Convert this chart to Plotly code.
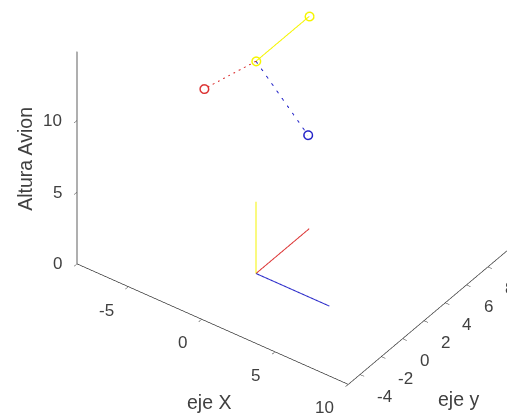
import numpy as np
import plotly.graph_objects as go

# Axis limits and ticks
x_range = [-8.5, 10]
y_range = [-5.1, 10]
z_range = [0, 14.8]
x_ticks = [-5, 0, 5, 10]
y_ticks = [-4, -2, 0, 2, 4, 6, 8]
z_ticks = [0, 5, 10]

# Ground reference frame (origin and axis tips, length 5)
ground_origin = [0, 0, 0]
ground_x_tip = [5, 0, 0]
ground_y_tip = [0, 5, 0]
ground_z_tip = [0, 0, 5]

# Aircraft frame: origin at altitude 14.8, rotated axes (length 5)
plane_origin = [0, 0, 14.8]
plane_x_tip = [3.54, 0, 11.26]
plane_y_tip = [-3.54, 0, 11.26]
plane_z_tip = [0, 5, 14.8]

BLUE = "#2424c8"
RED = "#dc3232"
YELLOW = "#f5f500"
INK = "#404040"
FONT = "Liberation Sans, Arial, sans-serif"

fig = go.Figure()


def seg(p0, p1, color, dash="solid", markers=False):
    xs, ys, zs = zip(p0, p1)
    fig.add_trace(go.Scatter3d(
        x=xs, y=ys, z=zs,
        mode="lines+markers" if markers else "lines",
        line=dict(color=color, width=2, dash=dash),
        marker=dict(symbol="circle-open", size=5.4, color=color,
                    line=dict(color=color, width=1)),
        hoverinfo="skip", showlegend=False,
    ))


seg(ground_origin, ground_x_tip, BLUE)
seg(ground_origin, ground_y_tip, RED)
seg(ground_origin, ground_z_tip, YELLOW)

seg(plane_origin, plane_y_tip, RED, dash="longdash", markers=True)
seg(plane_origin, plane_x_tip, BLUE, dash="longdash", markers=True)
seg(plane_origin, plane_z_tip, YELLOW, markers=True)


def axis(rng, ticks):
    return dict(
        range=rng, tickvals=ticks, showticklabels=False,
        showgrid=False, zeroline=False, showbackground=False,
        showline=True, linecolor="#2b2b2b", linewidth=1.5,
        ticks="inside", ticklen=5, tickcolor="#2b2b2b",
        showspikes=False, title=dict(text=""),
    )


# Orthographic view from azimuth / elevation
W, H = 507, 418
az, el = np.radians(36.0), np.radians(37.7)
right = np.array([np.cos(az), np.sin(az), 0.0])
up = np.array([-np.sin(az) * np.sin(el), np.cos(az) * np.sin(el), np.cos(el)])
eye_dir = np.cross(right, up)

k = 11.53                      # data units per normalized scene unit
s = (H / 2) / k                # pixels per data unit
origin_px = np.array([256.0, 273.5])   # page position of (0, 0, 0)

look_at = (-(origin_px[0] - W / 2) / s) * right + ((origin_px[1] - H / 2) / s) * up
box_mid = np.array([np.mean(x_range), np.mean(y_range), np.mean(z_range)])
center = (look_at - box_mid) / k
eye = center + 2.0 * eye_dir

sx = x_range[1] - x_range[0]
sy = y_range[1] - y_range[0]
sz = z_range[1] - z_range[0]

tick_font = dict(family=FONT, size=17, color=INK)
title_font = dict(family=FONT, size=19.5, color=INK)

annotations = []
for t in x_ticks:
    annotations.append(dict(x=t, y=y_range[0], z=0, text=str(t), showarrow=False,
                            xanchor="right", yanchor="middle",
                            xshift=-12.5, yshift=-23.5, font=tick_font))
for t in y_ticks:
    annotations.append(dict(x=x_range[1], y=t, z=0, text=str(t), showarrow=False,
                            xanchor="left", yanchor="middle",
                            xshift=15, yshift=-22, font=tick_font))
for t in z_ticks:
    annotations.append(dict(x=x_range[0], y=y_range[0], z=t, text=str(t), showarrow=False,
                            xanchor="right", yanchor="middle",
                            xshift=-13, yshift=0, font=tick_font))

annotations += [
    dict(x=0.5, y=y_range[0], z=0, text="eje X", showarrow=False,
         yshift=-80, font=title_font),
    dict(x=x_range[1], y=2.5, z=0, text="eje y", showarrow=False,
         xshift=29, yshift=-83, font=title_font),
    dict(x=x_range[0], y=y_range[0], z=7.4, text="Altura Avion", showarrow=False,
         textangle=-90, xshift=-52, yshift=-1, font=title_font),
]

fig.update_layout(
    width=W, height=H,
    margin=dict(l=0, r=0, t=0, b=0),
    paper_bgcolor="white",
    scene=dict(
        domain=dict(x=[0, 1], y=[0, 1]),
        xaxis=axis(x_range, x_ticks),
        yaxis=axis(y_range, y_ticks),
        zaxis=axis(z_range, z_ticks),
        aspectmode="manual",
        aspectratio=dict(x=sx / k, y=sy / k, z=sz / k),
        camera=dict(
            projection=dict(type="orthographic"),
            up=dict(x=0, y=0, z=1),
            center=dict(x=center[0], y=center[1], z=center[2]),
            eye=dict(x=eye[0], y=eye[1], z=eye[2]),
        ),
        annotations=annotations,
    ),
)

fig.write_html("out.html")
